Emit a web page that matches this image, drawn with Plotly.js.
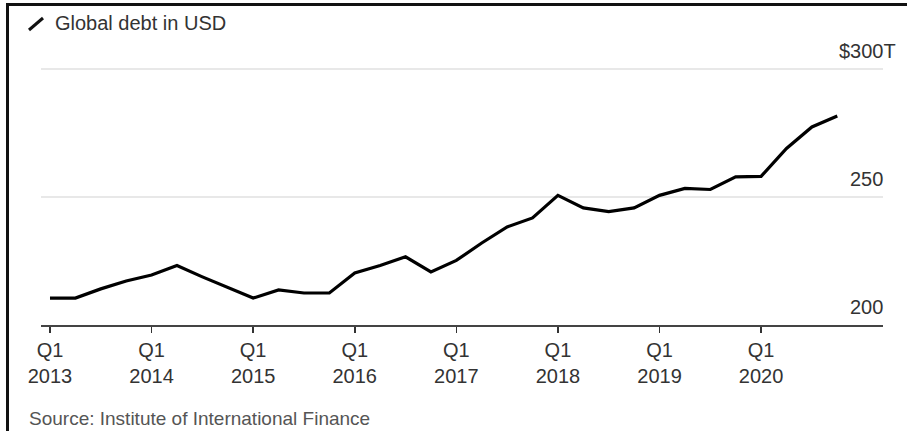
<!DOCTYPE html>
<html>
<head>
<meta charset="utf-8">
<script src="https://cdn.plot.ly/plotly-3.0.1.min.js"></script>
<style>
  html, body { margin: 0; padding: 0; background: #fff; }
  #wrap { position: relative; width: 907px; height: 431px; overflow: hidden; }
  #chart { position: absolute; left: 0; top: 0; width: 907px; height: 431px; }
  #frame { position: absolute; left: 6px; top: 3px; width: 1000px; height: 1000px;
           border-left: 3px solid #111; border-top: 3px solid #111; pointer-events: none; }
</style>
</head>
<body>
<div id="wrap">
  <div id="chart"></div>
  <div id="frame"></div>
</div>
<script>
// ---- data ----
const quarters = [
  "Q1 2013","Q2 2013","Q3 2013","Q4 2013",
  "Q1 2014","Q2 2014","Q3 2014","Q4 2014",
  "Q1 2015","Q2 2015","Q3 2015","Q4 2015",
  "Q1 2016","Q2 2016","Q3 2016","Q4 2016",
  "Q1 2017","Q2 2017","Q3 2017","Q4 2017",
  "Q1 2018","Q2 2018","Q3 2018","Q4 2018",
  "Q1 2019","Q2 2019","Q3 2019","Q4 2019",
  "Q1 2020","Q2 2020","Q3 2020","Q4 2020"
];
const globalDebt = [
  210.5, 210.5, 214.1, 217.2,
  219.5, 223.2, 218.8, 214.8,
  210.5, 213.7, 212.5, 212.5,
  220.3, 223.2, 226.6, 220.7,
  225.2, 232.0, 238.3, 241.8,
  250.6, 245.7, 244.3, 245.7,
  250.6, 253.3, 252.9, 257.8,
  258.0, 268.9, 277.3, 281.6
];
const xTickVals = ["Q1 2013","Q1 2014","Q1 2015","Q1 2016","Q1 2017","Q1 2018","Q1 2019","Q1 2020"];
const xTickText = ["Q1<br>2013","Q1<br>2014","Q1<br>2015","Q1<br>2016","Q1<br>2017","Q1<br>2018","Q1<br>2019","Q1<br>2020"];
const yTickVals = [200, 250, 300];
const yTickText = ["200", "250", "$300T"];
const seriesName = "Global debt in USD";
const sourceText = "Source: Institute of International Finance";

// ---- layout constants ----
const W = 907, H = 431;
const M = { l: 41, r: 24, t: 56, b: 106 };
const PW = W - M.l - M.r, PH = H - M.t - M.b;
const px = x => (x - M.l) / PW;
const py = y => (H - M.b - y) / PH;
const FONT = "Liberation Sans, Arial, sans-serif";

const trace = {
  type: "scatter", mode: "lines",
  x: quarters, y: globalDebt, name: seriesName,
  line: { color: "#000", width: 3.2 },
  hoverinfo: "skip"
};

const yLabelAnn = yTickVals.map((v, i) => ({
  xref: "paper", yref: "y", x: 1, y: v,
  text: yTickText[i], showarrow: false,
  xanchor: "right", yanchor: "middle",
  xshift: i === 2 ? 15 : 2, yshift: 18,
  font: { family: FONT, size: 20, color: "#333" }
}));

const layout = {
  width: W, height: H,
  margin: M,
  paper_bgcolor: "#fff", plot_bgcolor: "#fff",
  showlegend: false,
  title: {
    text: seriesName,
    xref: "container", yref: "container",
    x: 55 / W, xanchor: "left",
    y: 1 - 23 / H, yanchor: "middle",
    font: { family: FONT, size: 20, color: "#333" }
  },
  xaxis: {
    type: "category",
    range: [-0.354, 32.8],
    tickmode: "array", tickvals: xTickVals, ticktext: xTickText,
    ticks: "outside", ticklen: 6, tickwidth: 1.5, tickcolor: "#333",
    showline: true, linecolor: "#444", linewidth: 1.5,
    showgrid: false, zeroline: false,
    tickfont: { family: FONT, size: 20, color: "#333" },
    fixedrange: true
  },
  yaxis: {
    range: [200, 305],
    tickmode: "array", tickvals: yTickVals,
    showticklabels: false,
    showgrid: true, gridcolor: "#e8e8e8", gridwidth: 1.5,
    zeroline: false, showline: false,
    fixedrange: true
  },
  shapes: [
    { type: "line", xref: "paper", yref: "paper",
      x0: px(29), y0: py(30), x1: px(43), y1: py(18),
      line: { color: "#111", width: 3 } }
  ],
  annotations: yLabelAnn.concat([
    { xref: "paper", yref: "paper", x: px(27), y: py(418),
      text: sourceText, showarrow: false,
      xanchor: "left", yanchor: "middle",
      font: { family: FONT, size: 19, color: "#555" } }
  ])
};

Plotly.newPlot("chart", [trace], layout, { displayModeBar: false, staticPlot: true });
</script>
</body>
</html>
